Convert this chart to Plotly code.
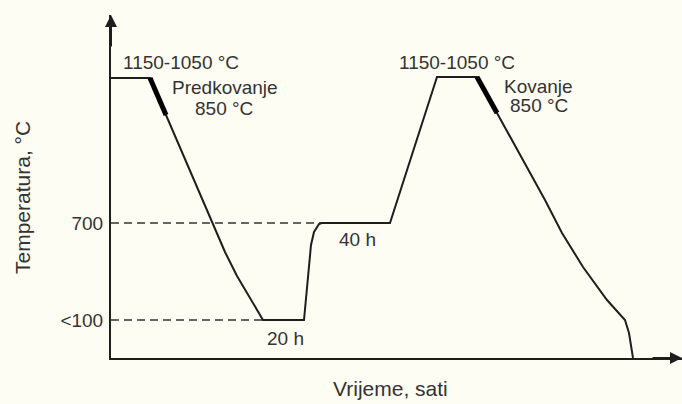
import plotly.graph_objects as go

# Schematic heat-treatment profile (time and temperature in schematic units)
time = [0, 39, 55, 78, 101, 114, 126, 137, 146, 152, 193, 197, 200, 203, 208, 211,
        279, 326, 366, 386, 434, 451, 472, 496, 514, 518, 522]
level = [280, 280, 243, 189, 135, 106, 82, 63, 48, 38, 38, 78, 113, 126, 134, 135,
         135, 281, 281, 245, 158, 125, 91, 58, 38, 25, 0]

# Forging windows (thick segments)
predforge_time = [39, 55]
predforge_level = [280, 243]
forge_time = [366, 386]
forge_level = [281, 245]

# Reference levels (dashed guides) and their tick labels
ref_levels = [38, 135]
ref_labels = ["<100", "700"]
ref_end = [152, 211]

INK = "#1e1e1e"
TXT = "#333333"
BG = "#FEFDF4"
FONT = "Liberation Sans, Arial, sans-serif"

fig = go.Figure()

for lv, xe in zip(ref_levels, ref_end):
    fig.add_trace(go.Scatter(x=[0, xe], y=[lv, lv], mode="lines",
                             line=dict(color="#333333", width=1.5, dash="8px,5px"),
                             hoverinfo="skip", showlegend=False))

fig.add_trace(go.Scatter(x=time, y=level, mode="lines",
                         line=dict(color=INK, width=2), showlegend=False))
fig.add_trace(go.Scatter(x=predforge_time, y=predforge_level, mode="lines",
                         line=dict(color="#000000", width=5), showlegend=False))
fig.add_trace(go.Scatter(x=forge_time, y=forge_level, mode="lines",
                         line=dict(color="#000000", width=5), showlegend=False))

labels = [
    ("1150-1050 °C", 70, 296),
    ("Predkovanje", 114, 271),
    ("850 °C", 113, 250),
    ("1150-1050 °C", 346, 296),
    ("Kovanje", 427, 272),
    ("850 °C", 428, 253),
    ("20 h", 174, 20),
    ("40 h", 246, 119),
]
annotations = []
for t, x, y in labels:
    annotations.append(dict(text=t, x=x, y=y, xref="x", yref="y", showarrow=False,
                            font=dict(size=19, color=TXT, family=FONT),
                            xanchor="center", yanchor="middle"))

# axis titles
annotations.append(dict(text="Vrijeme, sati", xref="paper", yref="paper",
                        x=(390 - 111) / 571, y=(358 - 388) / 343, showarrow=False,
                        font=dict(size=21, color=TXT, family=FONT),
                        xanchor="center", yanchor="middle"))
annotations.append(dict(text="Temperatura, °C", xref="paper", yref="paper",
                        x=(22 - 111) / 571, y=(358 - 198) / 343, showarrow=False,
                        textangle=-90, font=dict(size=21, color=TXT, family=FONT),
                        xanchor="center", yanchor="middle"))

# arrowheads on axes
annotations.append(dict(x=571, y=0, ax=540, ay=0, xref="x", yref="y", axref="x", ayref="y",
                        text="", showarrow=True, arrowhead=2, arrowsize=1.2,
                        arrowwidth=2, arrowcolor=INK, standoff=0))
annotations.append(dict(x=0, y=343, ax=0, ay=310, xref="x", yref="y", axref="x", ayref="y",
                        text="", showarrow=True, arrowhead=2, arrowsize=1.2,
                        arrowwidth=2, arrowcolor=INK, standoff=0))

fig.update_layout(
    width=682, height=404,
    margin=dict(l=111, r=0, t=15, b=46),
    paper_bgcolor=BG, plot_bgcolor=BG,
    annotations=annotations,
    xaxis=dict(range=[0, 571], showgrid=False, zeroline=False, showticklabels=False,
               showline=True, linecolor=INK, linewidth=2, ticks=""),
    yaxis=dict(range=[0, 343], showgrid=False, zeroline=False,
               tickmode="array", tickvals=ref_levels, ticktext=ref_labels,
               tickfont=dict(size=19, color=TXT, family=FONT), ticks="",
               ticklabelstandoff=2,
               showline=True, linecolor=INK, linewidth=2),
)

fig.write_html("out.html",
               config={"displayModeBar": False},
               post_script="document.body.style.margin='0';"
                           "document.body.style.background='" + BG + "';")
